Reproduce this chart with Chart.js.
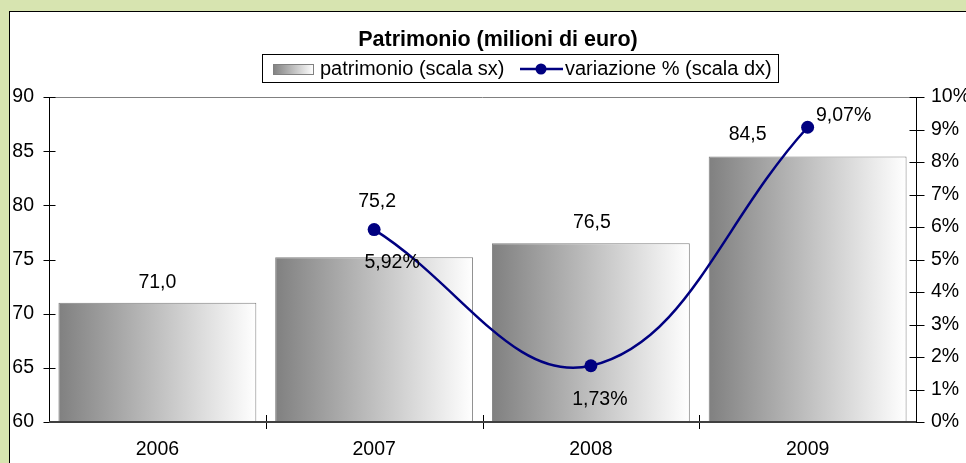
<!DOCTYPE html>
<html>
<head>
<meta charset="utf-8">
<script src="https://cdn.jsdelivr.net/npm/chart.js@4"></script>
<style>
  html, body { margin: 0; padding: 0; }
  body { width: 966px; height: 463px; background: #d7e4b0; position: relative; overflow: hidden; }
  #panel { position: absolute; left: 9px; top: 11px; right: -20px; bottom: -20px; background: #fff; border-left: 1px solid #000; border-top: 1px solid #000; }
  #chart { position: absolute; left: 0; top: 0; }
</style>
</head>
<body>
<div id="panel"></div>
<canvas id="chart" width="966" height="463"></canvas>
<script>
const years = ["2006", "2007", "2008", "2009"];
const patrimonio = [71.0, 75.2, 76.5, 84.5];
const variazione = [null, 5.92, 1.73, 9.07];
const leftTicks = [60, 65, 70, 75, 80, 85, 90];
const rightTicks = [0, 1, 2, 3, 4, 5, 6, 7, 8, 9, 10];

const FONT = "'Liberation Sans', Arial, sans-serif";
const TXT = 19.5;
const NAVY = "#000080";
const BAR_PCT = 0.913;

// manual label nudges, like the ones moved by hand in the original
const barLabelShift = [[0, -20], [3, -56], [1, -21], [-60, -22]];
const lineLabelShift = [null, [18, 33], [9, 34], [36, -12]];

function comma(v, digits) {
  return v.toFixed(digits).replace(".", ",");
}

function grayGradient(ctx, x0, x1) {
  const g = ctx.createLinearGradient(x0, 0, x1, 0);
  g.addColorStop(0, "#808080");
  g.addColorStop(1, "#ffffff");
  return g;
}

function barFill(c) {
  const chart = c.chart;
  const xs = chart.scales.x;
  if (!chart.chartArea || !xs) return "#c0c0c0";
  const cx = xs.getPixelForValue(c.dataIndex);
  const half = xs.width / years.length * BAR_PCT / 2;
  return grayGradient(chart.ctx, cx - half, cx + half);
}

function line(ctx, x0, y0, x1, y1) {
  ctx.beginPath();
  ctx.moveTo(x0, y0);
  ctx.lineTo(x1, y1);
  ctx.stroke();
}

const axesPlugin = {
  id: "axesPlugin",
  afterDatasetsDraw(chart) {
    const ctx = chart.ctx;
    const a = chart.chartArea;
    const xs = chart.scales.x;
    const yl = chart.scales.y;
    const yr = chart.scales.y1;
    const L = Math.round(a.left) + 0.5;
    const R = Math.round(a.right) + 0.5;
    const B = Math.round(a.bottom);

    ctx.save();
    ctx.strokeStyle = "#000";
    ctx.lineWidth = 1;
    line(ctx, L, a.top, L, B);
    line(ctx, R, a.top, R, B);

    leftTicks.forEach(v => {
      const y = Math.round(yl.getPixelForValue(v)) + 0.5;
      line(ctx, L - 6, y, L + 6, y);
    });
    rightTicks.forEach(v => {
      const y = Math.round(yr.getPixelForValue(v)) + 0.5;
      line(ctx, R - 7, y, R + 8, y);
    });

    const step = xs.width / years.length;
    for (let i = 1; i < years.length; i++) {
      const x = Math.round(xs.left + step * i) + 0.5;
      line(ctx, x, B - 7, x, B + 7);
    }

    ctx.strokeStyle = "#404040";
    ctx.lineWidth = 2;
    line(ctx, a.left, B, a.right, B);

    // data labels
    ctx.fillStyle = "#000";
    ctx.font = TXT + "px " + FONT;
    ctx.textAlign = "center";
    ctx.textBaseline = "middle";
    const bars = chart.getDatasetMeta(0).data;
    bars.forEach((el, i) => {
      const s = barLabelShift[i];
      ctx.fillText(comma(patrimonio[i], 1), el.x + s[0], el.y + s[1]);
    });
    const pts = chart.getDatasetMeta(1).data;
    pts.forEach((el, i) => {
      if (variazione[i] === null) return;
      const s = lineLabelShift[i];
      ctx.fillText(comma(variazione[i], 2) + "%", el.x + s[0], el.y + s[1]);
    });

    // title
    ctx.font = "bold 21.5px " + FONT;
    ctx.fillText("Patrimonio (milioni di euro)", 498, 40);

    // legend
    ctx.strokeStyle = "#000";
    ctx.lineWidth = 1;
    ctx.strokeRect(262.5, 54.5, 516, 28);
    ctx.fillStyle = grayGradient(ctx, 273, 314);
    ctx.fillRect(273, 64, 41, 11);
    ctx.strokeStyle = "#808080";
    ctx.strokeRect(273.5, 64.5, 40, 10);
    ctx.fillStyle = "#000";
    ctx.font = "20px " + FONT;
    ctx.textAlign = "left";
    ctx.fillText("patrimonio (scala sx)", 320, 69);
    ctx.strokeStyle = NAVY;
    ctx.lineWidth = 2.5;
    line(ctx, 520, 69, 563, 69);
    ctx.fillStyle = NAVY;
    ctx.beginPath();
    ctx.arc(541, 69, 5.5, 0, Math.PI * 2);
    ctx.fill();
    ctx.fillStyle = "#000";
    ctx.fillText("variazione % (scala dx)", 565, 69);
    ctx.restore();
  }
};

const tickFont = { family: FONT, size: TXT };

new Chart(document.getElementById("chart"), {
  type: "bar",
  data: {
    labels: years,
    datasets: [
      {
        label: "patrimonio (scala sx)",
        data: patrimonio,
        yAxisID: "y",
        order: 2,
        backgroundColor: barFill,
        borderColor: "#808080",
        borderWidth: 1,
        barPercentage: BAR_PCT,
        categoryPercentage: 1
      },
      {
        type: "line",
        label: "variazione % (scala dx)",
        data: variazione,
        yAxisID: "y1",
        order: 1,
        borderColor: NAVY,
        borderWidth: 2.5,
        tension: 0.4,
        pointRadius: 6.5,
        pointBackgroundColor: NAVY,
        pointBorderColor: NAVY,
        pointBorderWidth: 0
      }
    ]
  },
  options: {
    responsive: false,
    animation: false,
    layout: { padding: { top: 97, left: 0, right: 0, bottom: 0 } },
    plugins: {
      legend: { display: false },
      title: { display: false },
      tooltip: { enabled: false }
    },
    scales: {
      x: {
        offset: true,
        grid: { display: false, drawTicks: false },
        border: { display: false },
        ticks: { color: "#000", font: tickFont, padding: 16, maxRotation: 0 },
        afterFit(s) { s.height = 41; }
      },
      y: {
        position: "left",
        min: 60,
        max: 90,
        grid: {
          drawTicks: false,
          color: c => (c.tick && c.tick.value === 90 ? "#808080" : "transparent")
        },
        border: { display: false },
        ticks: { stepSize: 5, color: "#000", font: tickFont, padding: 15 },
        afterFit(s) { s.width = 49; }
      },
      y1: {
        position: "right",
        min: 0,
        max: 10,
        grid: { display: false, drawTicks: false },
        border: { display: false },
        ticks: { stepSize: 1, color: "#000", font: tickFont, padding: 15, callback: v => v + "%" },
        afterFit(s) { s.width = 50; }
      }
    }
  },
  plugins: [axesPlugin]
});
</script>
</body>
</html>
